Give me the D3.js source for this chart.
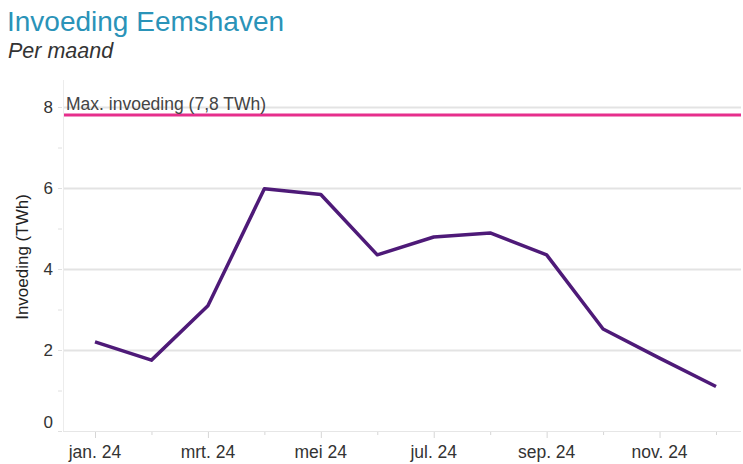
<!DOCTYPE html>
<html>
<head>
<meta charset="utf-8">
<script src="https://cdn.jsdelivr.net/npm/d3@7"></script>
<style>
    body { margin: 0; background: #fff; }
    svg { font-family: "Liberation Sans", Arial, sans-serif; }
</style>
</head>
<body>
<div id="chart"></div>
<script>
// data
const months = ["jan. 24", "feb. 24", "mrt. 24", "apr. 24", "mei 24", "jun. 24",
    "jul. 24", "aug. 24", "sep. 24", "okt. 24", "nov. 24", "dec. 24"];
const invoeding = [2.2, 1.75, 3.09, 5.98, 5.84, 4.35, 4.79, 4.89, 4.35, 2.52, 1.8, 1.1];
const maxInvoeding = 7.8;
const yTicks = [0, 2, 4, 6, 8];
const yMinorTicks = [1, 3, 5, 7];

const width = 743, height = 464;
const plot = {left: 63, right: 741, top: 80, bottom: 431};

const svg = d3.select("#chart").append("svg")
    .attr("width", width).attr("height", height)
    .attr("viewBox", `0 0 ${width} ${height}`);

let x = d3.scalePoint().domain(months).range([95, 716]);
let y = d3.scaleLinear().domain([0, 8]).range([plot.bottom, 107]);

// titles
svg.append("text").attr("x", 7).attr("y", 31)
    .attr("fill", "#2a93b8").style("font-size", "28px")
    .text("Invoeding Eemshaven");
svg.append("text").attr("x", 8).attr("y", 58)
    .attr("fill", "#333").style("font-size", "21.5px").style("font-style", "italic")
    .text("Per maand");

// gridlines
svg.append("g").attr("class", "grid")
    .selectAll("line").data(yTicks.filter(d => d > 0))
    .enter().append("line")
    .attr("x1", plot.left).attr("x2", plot.right)
    .attr("y1", d => y(d) + 0.5).attr("y2", d => y(d) + 0.5)
    .attr("stroke", "#e3e3e3").attr("stroke-width", 2);

// axis lines
svg.append("line")
    .attr("x1", plot.left + 0.5).attr("x2", plot.left + 0.5)
    .attr("y1", plot.top).attr("y2", plot.bottom)
    .attr("stroke", "#ececec");
svg.append("line")
    .attr("x1", plot.left).attr("x2", plot.right)
    .attr("y1", plot.bottom + 0.5).attr("y2", plot.bottom + 0.5)
    .attr("stroke", "#e6e6e6");

// y axis labels + ticks
let yAxis = svg.append("g");
yAxis.selectAll("text").data(yTicks).enter().append("text")
    .attr("x", 53).attr("y", d => d === 0 ? y(d) - 9 : y(d))
    .attr("dy", "0.36em").attr("text-anchor", "end")
    .attr("fill", "#333").style("font-size", "17px")
    .text(d => d);
yAxis.selectAll("line").data(yTicks.concat(yMinorTicks)).enter().append("line")
    .attr("x1", 58).attr("x2", 62)
    .attr("y1", d => y(d) + 0.5).attr("y2", d => y(d) + 0.5)
    .attr("stroke", "#e0e0e0");

svg.append("text")
    .attr("transform", `translate(28,257) rotate(-90)`)
    .attr("text-anchor", "middle").attr("fill", "#222").style("font-size", "17px")
    .text("Invoeding (TWh)");

// x axis ticks + labels
let xAxis = svg.append("g");
xAxis.selectAll("line").data(months).enter().append("line")
    .attr("x1", d => x(d) + 0.5).attr("x2", d => x(d) + 0.5)
    .attr("y1", plot.bottom + 1)
    .attr("y2", (d, i) => plot.bottom + (i % 2 === 0 ? 7 : 4))
    .attr("stroke", "#d6d6d6");
xAxis.selectAll("text").data(months.filter((d, i) => i % 2 === 0)).enter().append("text")
    .attr("x", d => x(d)).attr("y", 458)
    .attr("text-anchor", "middle").attr("fill", "#333").style("font-size", "17.5px")
    .text(d => d);

// max line
svg.append("line")
    .attr("x1", plot.left + 1).attr("x2", plot.right)
    .attr("y1", y(maxInvoeding)).attr("y2", y(maxInvoeding))
    .attr("stroke", "#e62e8c").attr("stroke-width", 3);
svg.append("text").attr("x", 66).attr("y", 110)
    .attr("fill", "#444").style("font-size", "17.5px")
    .text("Max. invoeding (7,8 TWh)");

// series line
svg.append("path").datum(invoeding)
    .attr("fill", "none").attr("stroke", "#4e1a78").attr("stroke-width", 3.5)
    .attr("stroke-linejoin", "round")
    .attr("d", d3.line().x((d, i) => x(months[i])).y(d => y(d)));
</script>
</body>
</html>
